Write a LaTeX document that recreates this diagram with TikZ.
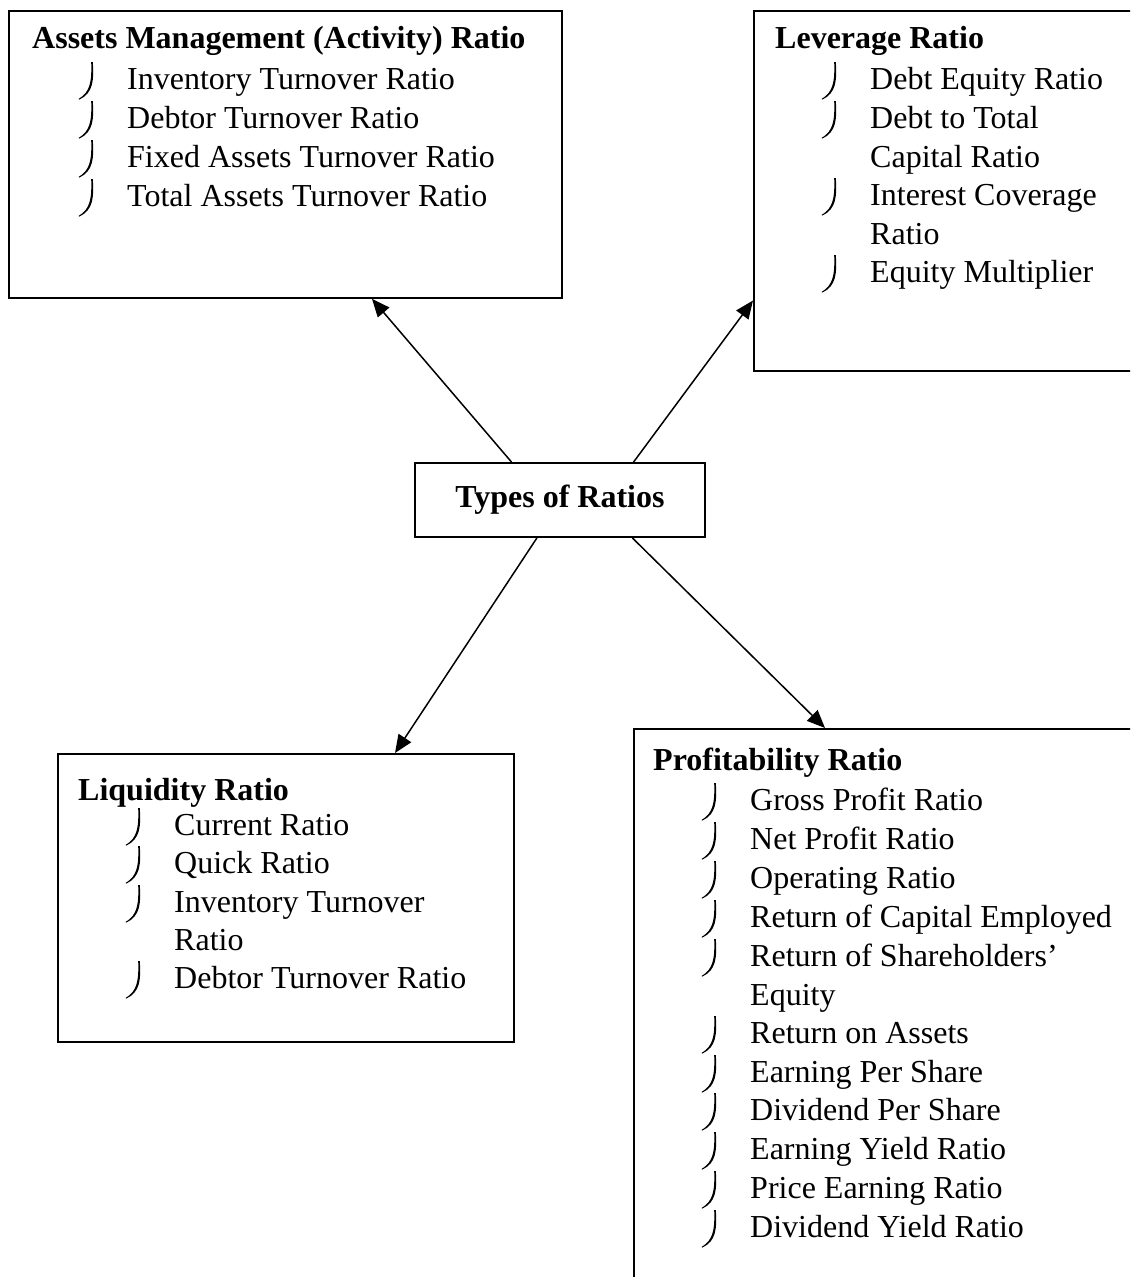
\documentclass[tikz,border=0pt]{standalone}
\usepackage{fontspec}
\setmainfont{Liberation Serif}
\usetikzlibrary{arrows.meta,calc}
\begin{document}
\begin{tikzpicture}[x=1pt,y=-1pt,
  box/.style={draw, line width=1.8pt, anchor=north west, inner sep=0pt},
  ttl/.style={anchor=base west, inner sep=0pt, font=\bfseries\fontsize{32}{38}\selectfont},
  itm/.style={anchor=base west, inner sep=0pt, font=\fontsize{32}{38}\selectfont},
  arr/.style={line width=1.5pt, -{Triangle[length=18pt,width=15pt]}},
  hk/.pic={\fill (-35.8,-27) .. controls (-35.2,-8) and (-36.5,3) .. (-48.5,10)
             -- (-47.5,10.5) .. controls (-34,4) and (-33,-8) .. (-34.2,-27) -- cycle;}]
\useasboundingbox (0,0) rectangle (1130,1277);
\clip (0,0) rectangle (1130,1277);
% boxes
\node[box, minimum width=553pt, minimum height=287pt] (A) at (8,10) {};
\node[box, minimum width=420pt, minimum height=360pt] (L) at (753,10) {};
\node[box, minimum width=456pt, minimum height=288pt] (Q) at (57,753) {};
\node[box, minimum width=520pt, minimum height=600pt] (P) at (633,728) {};
\node[draw, line width=1.8pt, minimum width=290pt, minimum height=74pt, inner sep=0pt,
      font=\bfseries\fontsize{32}{38}\selectfont] (C) at (560,500) {Types of Ratios};
% Assets management
\node[ttl] (At) at (32,48) {Assets Management (Activity) Ratio};
\node[itm] (a1) at (127,89) {Inventory Turnover Ratio};
\node[itm] (a2) at (127,128) {Debtor Turnover Ratio};
\node[itm] (a3) at (127,167) {Fixed Assets Turnover Ratio};
\node[itm] (a4) at (127,206) {Total Assets Turnover Ratio};
\foreach \n in {a1,a2,a3,a4} \pic at (\n.base west) {hk};
% Leverage
\node[ttl] (Lt) at (775,48) {Leverage Ratio};
\node[itm] (l1) at (870,89) {Debt Equity Ratio};
\node[itm] (l2) at (870,128) {Debt to Total};
\node[itm] (l2b) at (870,167) {Capital Ratio};
\node[itm] (l3) at (870,205) {Interest Coverage};
\node[itm] (l3b) at (870,244) {Ratio};
\node[itm] (l4) at (870,282) {Equity Multiplier};
\foreach \n in {l1,l2,l3,l4} \pic at (\n.base west) {hk};
% Liquidity
\node[ttl] (Qt) at (78,800) {Liquidity Ratio};
\node[itm] (q1) at (174,835) {Current Ratio};
\node[itm] (q2) at (174,873) {Quick Ratio};
\node[itm] (q3) at (174,912) {Inventory Turnover};
\node[itm] (q3b) at (174,950) {Ratio};
\node[itm] (q4) at (174,988) {Debtor Turnover Ratio};
\foreach \n in {q1,q2,q3,q4} \pic at (\n.base west) {hk};
% Profitability
\node[ttl] (Pt) at (653,770) {Profitability Ratio};
\node[itm] (p1) at (750,810) {Gross Profit Ratio};
\node[itm] (p2) at (750,849) {Net Profit Ratio};
\node[itm] (p3) at (750,888) {Operating Ratio};
\node[itm] (p4) at (750,927) {Return of Capital Employed};
\node[itm] (p5) at (750,966) {Return of Shareholders’};
\node[itm] (p5b) at (750,1005) {Equity};
\node[itm] (p6) at (750,1043) {Return on Assets};
\node[itm] (p7) at (750,1082) {Earning Per Share};
\node[itm] (p8) at (750,1120) {Dividend Per Share};
\node[itm] (p9) at (750,1159) {Earning Yield Ratio};
\node[itm] (p10) at (750,1198) {Price Earning Ratio};
\node[itm] (p11) at (750,1237) {Dividend Yield Ratio};
\foreach \n in {p1,p2,p3,p4,p5,p6,p7,p8,p9,p10,p11} \pic at (\n.base west) {hk};
% arrows
\draw[arr] ($(C.north west)!0.334!(C.north east)$) -- ($(A.south west)!0.656!(A.south east)$);
\draw[arr] ($(C.north west)!0.752!(C.north east)$) -- ($(L.north west)!0.803!(L.south west)$);
\draw[arr] ($(C.south west)!0.421!(C.south east)$) -- ($(Q.north west)+(338,0)$);
\draw[arr] ($(C.south west)!0.748!(C.south east)$) -- ($(P.north west)+(192,0)$);
\end{tikzpicture}
\end{document}
